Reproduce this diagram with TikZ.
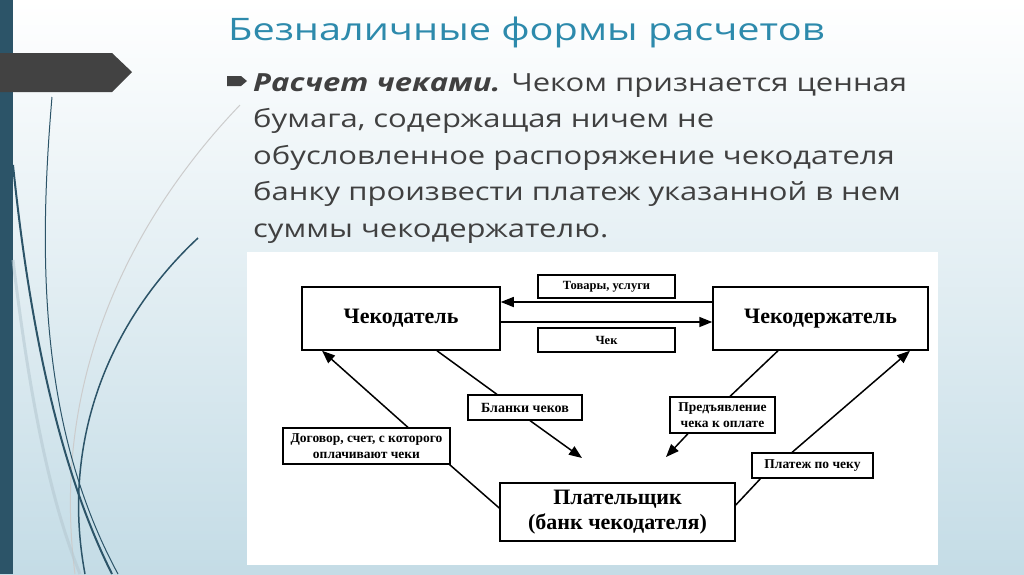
\documentclass[tikz,border=0pt]{standalone}
\usepackage{fontspec}
\usepackage{xcolor}
\newfontfamily\slidefont[FakeStretch=1.24]{Open Sans}
\newfontfamily\headfont[FakeStretch=1.28]{Open Sans}
\newfontfamily\diagfont{Liberation Serif}
\usetikzlibrary{arrows.meta,positioning}

\definecolor{barteal}{RGB}{44,84,104}
\definecolor{titleblue}{RGB}{45,138,172}
\definecolor{bodygrey}{RGB}{64,64,64}
\definecolor{markgrey}{RGB}{66,66,66}
\definecolor{bgblue}{RGB}{196,220,230}

\tikzset{
  bigbox/.style={draw, line width=1.5pt, fill=white, inner sep=2pt,
    font=\diagfont\bfseries\fontsize{22}{25}\selectfont, align=center},
  tagbox/.style={draw, line width=1.2pt, fill=white, inner sep=1pt,
    font=\diagfont\bfseries\fontsize{13.5}{16}\selectfont, align=center},
  flow/.style={line width=1.5pt, -{Triangle[length=13pt,width=10pt]}},
  link/.style={line width=1.5pt},
  swirl/.style={barteal, line width=#1},
}

\begin{document}
\begin{tikzpicture}[x=1pt, y=-1pt]
\useasboundingbox (0,0) rectangle (1024,574);
% Slide background
\shade[top color=white, middle color=bgblue!40, bottom color=bgblue] (0,0) rectangle (1024,574);
\fill[barteal] (0,0) rectangle (13,574);

% Swirling lines on the left
\draw[gray!40, line width=1pt] (240,105) .. controls (130,220) and (50,380) .. (75,574);
\draw[bgblue!80!gray, line width=3pt, opacity=0.6] (13,260) .. controls (30,400) and (50,500) .. (80,574);
\draw[swirl=1pt] (52,97) .. controls (38,260) and (40,430) .. (118,574);
\draw[swirl=2pt] (13,165) .. controls (30,330) and (60,470) .. (112,574);
\draw[swirl=1.5pt] (198,238) .. controls (110,320) and (60,440) .. (85,574);

% Title marker
\fill[markgrey] (0,53) -- (112,53) -- (132,72) -- (112,92) -- (0,92) -- cycle;

% Title and text
\node[anchor=base west, inner sep=0, text=titleblue,
  font=\headfont\fontsize{31}{36}\selectfont] (title) at (228,40)
  {Безналичные формы расчетов};
\fill[markgrey] (227,76) -- (241,76) -- (247,81) -- (241,86) -- (227,86) -- cycle;
\node[anchor=north west, inner sep=0, text=bodygrey, align=left,
  font=\slidefont\fontsize{25}{36.5}\selectfont] (body) at (253,73)
  {{\bfseries\itshape Расчет чеками.} Чеком признается ценная\\
   бумага, содержащая ничем не\\
   обусловленное распоряжение чекодателя\\
   банку произвести платеж указанной в нем\\
   суммы чекодержателю.};

% Scheme panel
\fill[white] (247,252) rectangle (938,565);

% Parties
\node[bigbox, minimum width=198pt, minimum height=63pt] (drawer) at (401,318.5) {Чекодатель};
\node[bigbox, minimum width=215pt, minimum height=63pt] (holder) at (820.5,318.5) {Чекодержатель};
\node[bigbox, minimum width=235pt, minimum height=58pt] (payer) at (617.5,512) {Плательщик\\(банк чекодателя)};

% Labels on the flows
\node[tagbox, minimum width=137pt, minimum height=23pt, font=\diagfont\bfseries\fontsize{12.5}{15}\selectfont] (goods) at (606.5,286.5) {Товары, услуги};
\node[tagbox, minimum width=137pt, minimum height=24pt, font=\diagfont\bfseries\fontsize{12.5}{15}\selectfont] (cheque) at (606.5,340) {Чек};
\node[tagbox, minimum width=114pt, minimum height=25pt, font=\diagfont\bfseries\fontsize{14}{16}\selectfont] (blanks) at (525,407.5) {Бланки чеков};
\node[tagbox, minimum width=105pt, minimum height=36pt] (present) at (722.5,415) {Предъявление\\чека к оплате};
\node[tagbox, minimum width=121pt, minimum height=25pt] (payment) at (812.5,465.5) {Платеж по чеку};
\node[tagbox, minimum width=167pt, minimum height=36pt] (contract) at (366.5,446) {Договор, счет, с которого\\оплачивают чеки};

% Free arrow ends
\coordinate (blanksTip) at (582,458);
\coordinate (presentTip) at (666,457);

% Flows
\draw[flow] ([yshift=16.5pt]holder.west) -- ([yshift=16.5pt]drawer.west -| drawer.east);
\draw[flow] ([yshift=-3.5pt]drawer.east) -- ([yshift=-3.5pt]holder.west);
\draw[link] ([xshift=36pt]drawer.south) -- ([xshift=-28pt]blanks.north);
\draw[flow] ([xshift=5pt]blanks.south) -- (blanksTip);
\draw[link] ([xshift=-42.5pt]holder.south) -- ([xshift=7.5pt]present.north);
\draw[flow] ([xshift=-34.5pt]present.south) -- (presentTip);
\draw[flow] ([xshift=41.5pt]contract.north) -- ([xshift=-79pt]drawer.south);
\draw[link] ([xshift=-1pt]contract.south east) -- ([yshift=4pt]payer.west);
\draw[link] ([yshift=7pt]payer.east) -- ([xshift=-52pt]payment.south);
\draw[flow] ([xshift=-20.5pt]payment.north) -- ([xshift=89.5pt]holder.south);
\end{tikzpicture}
\end{document}
